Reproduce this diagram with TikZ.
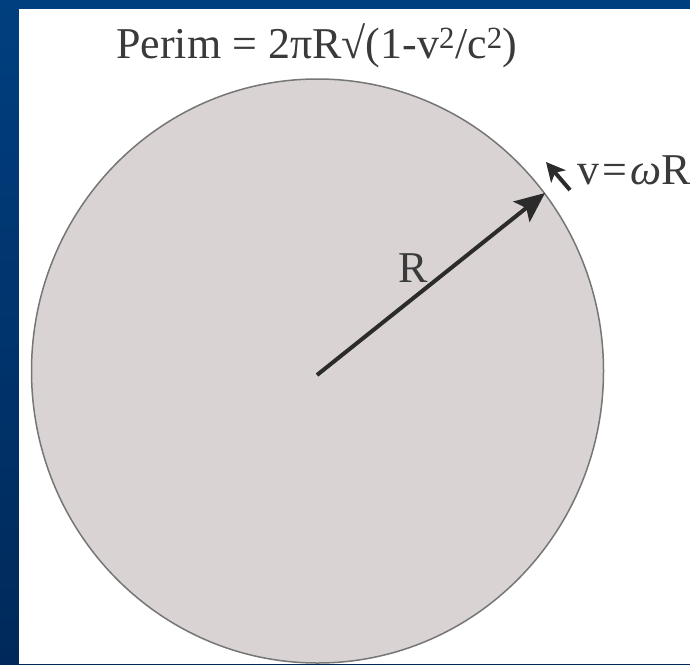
\documentclass[tikz,border=0pt]{standalone}
\usepackage{fontspec}
\setmainfont{Liberation Serif}
\usepackage{xcolor}
\usetikzlibrary{arrows.meta, positioning}
\definecolor{slidetop}{HTML}{003F7F}
\definecolor{slidebottom}{HTML}{00295A}
\definecolor{diskfill}{HTML}{D9D4D3}
\definecolor{diskedge}{HTML}{767676}
\definecolor{inkgray}{HTML}{2B2B2B}
\definecolor{labelgray}{HTML}{3A3A3A}
\tikzset{
  lbl/.style={font=\fontsize{44}{44}\selectfont, text=labelgray, inner sep=0pt},
  rarr/.style={-{Stealth[length=30pt, width=26pt, inset=6pt]}, line width=4pt, draw=inkgray},
  varr/.style={-{Stealth[length=19pt, width=19pt, inset=5pt]}, line width=4pt, draw=inkgray},
}
\begin{document}
\begin{tikzpicture}[x=1pt, y=-1pt]
\useasboundingbox (0,0) rectangle (690,664);
% ---- slide frame ----
\shade[top color=slidetop, bottom color=slidebottom] (0,0) rectangle (690,664);
\fill[white] (19,9) rectangle (690,664);
% ---- rotating disk ----
\draw[draw=diskedge, fill=diskfill, line width=1.5pt]
  (317.5,371) ellipse [x radius=286, y radius=292];
\coordinate (centre) at (317,375);
\coordinate (rim) at (545,193);
\draw[rarr] (centre) -- (rim);
\node[lbl, anchor=base] (rlabel) at (413,282) {R};
% ---- velocity at the rim ----
\node[lbl, anchor=base west] (vlabel) at (577,184)
  {v\hspace{3pt}=\hspace{3pt}{\itshape ω}R};
\coordinate (vtail) at (570,190);
\coordinate (vtip) at (546,162);
\draw[varr] (vtail) -- (vtip);
% ---- perimeter formula ----
\node[lbl, anchor=base west] (perim) at (116,58)
  {Perim = 2πR√(1-v\textsuperscript{2}/c\textsuperscript{2})};
\end{tikzpicture}
\end{document}
